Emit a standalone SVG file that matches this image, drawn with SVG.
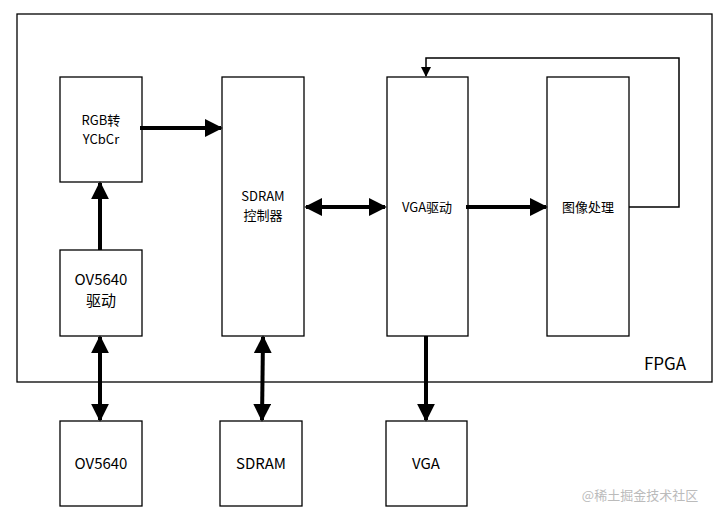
<svg xmlns="http://www.w3.org/2000/svg" width="723" height="520" viewBox="0 0 723 520">
<style>
rect{fill:#fff;stroke:#000;stroke-width:1.3}
text{font-family:"Noto Sans CJK SC","Liberation Sans",sans-serif;fill:#000;text-anchor:middle}
.s{font-size:13px}.m{font-size:15px}
.c{stroke:#000;stroke-width:4;fill:none}
.t{stroke:#000;stroke-width:1.5;fill:none}
</style>
<defs>
<marker id="a" viewBox="0 0 10 10" refX="9" refY="5" markerWidth="4.5" markerHeight="4.5" orient="auto-start-reverse" markerUnits="strokeWidth"><path d="M0,0L10,5L0,10z"/></marker>
<marker id="b" viewBox="0 0 10 10" refX="9" refY="5" markerWidth="7" markerHeight="7" orient="auto" markerUnits="strokeWidth"><path d="M0,0L10,5L0,10z"/></marker>
</defs>
<rect width="723" height="520" style="stroke:none"/>
<g id="fpga"><rect x="17" y="14" width="695" height="368"/><text x="665" y="370" style="font-size:17px">FPGA</text></g>
<g id="rgb"><rect x="60" y="77" width="82" height="105"/><text x="101" y="125" class="s">RGB转</text><text x="101" y="144" class="s">YCbCr</text></g>
<g id="sdramctl"><rect x="222" y="77" width="82" height="259"/><text x="263" y="201" class="s">SDRAM</text><text x="263" y="220" class="s">控制器</text></g>
<g id="vga"><rect x="387" y="77" width="81" height="259"/><text x="427" y="212" class="s">VGA驱动</text></g>
<g id="img"><rect x="547" y="77" width="82" height="259"/><text x="588" y="212" class="s">图像处理</text></g>
<g id="ovdrv"><rect x="60" y="250" width="82" height="86"/><text x="101" y="285" class="m">OV5640</text><text x="101" y="306" class="m">驱动</text></g>
<g id="ov"><rect x="60" y="421" width="82" height="85"/><text x="101" y="469" class="m">OV5640</text></g>
<g id="sdram"><rect x="220" y="421" width="82" height="85"/><text x="261" y="469" class="m">SDRAM</text></g>
<g id="vgaout"><rect x="386" y="421" width="81" height="85"/><text x="426" y="469" class="m">VGA</text></g>
<g id="connectors">
<path class="c" d="M140,128H221" marker-end="url(#a)"/>
<path class="c" d="M100,250V183" marker-end="url(#a)"/>
<path class="c" d="M306,207H385" marker-start="url(#a)" marker-end="url(#a)"/>
<path class="c" d="M466,207H546" marker-end="url(#a)"/>
<path class="t" d="M629,207H679V58H426V76" marker-end="url(#b)"/>
<path class="c" d="M100,337V420" marker-start="url(#a)" marker-end="url(#a)"/>
<path class="c" d="M263,337L262,420" marker-start="url(#a)" marker-end="url(#a)"/>
<path class="c" d="M426,336V420" marker-end="url(#a)"/>
</g>
<text x="640" y="500" style="font-size:13px;fill:#bbb">@稀土掘金技术社区</text>
</svg>
